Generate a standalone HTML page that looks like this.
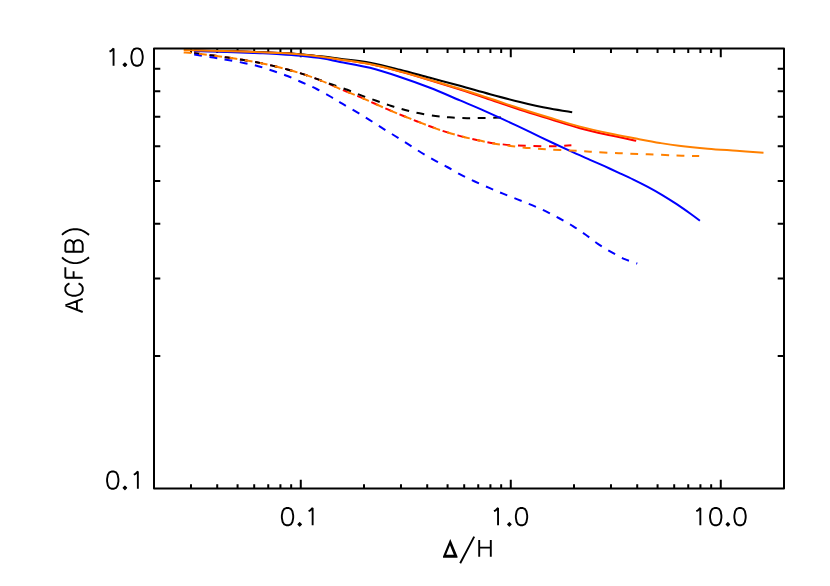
<!DOCTYPE html>
<html><head><meta charset="utf-8"><title>ACF(B)</title>
<style>html,body{margin:0;padding:0;background:#fff;font-family:"Liberation Sans",sans-serif;}svg{display:block}</style>
</head><body>
<svg width="830" height="586" viewBox="0 0 830 586">
<rect width="830" height="586" fill="#fff"/>
<path d="M190.98 488.55 V484.15 M190.98 48.55 V52.95 M217.22 488.55 V484.15 M217.22 48.55 V52.95 M237.57 488.55 V484.15 M237.57 48.55 V52.95 M254.20 488.55 V484.15 M254.20 48.55 V52.95 M268.25 488.55 V484.15 M268.25 48.55 V52.95 M280.43 488.55 V484.15 M280.43 48.55 V52.95 M291.17 488.55 V484.15 M291.17 48.55 V52.95 M300.78 488.55 V479.75 M300.78 48.55 V57.35 M364.00 488.55 V484.15 M364.00 48.55 V52.95 M400.98 488.55 V484.15 M400.98 48.55 V52.95 M427.22 488.55 V484.15 M427.22 48.55 V52.95 M447.57 488.55 V484.15 M447.57 48.55 V52.95 M464.20 488.55 V484.15 M464.20 48.55 V52.95 M478.25 488.55 V484.15 M478.25 48.55 V52.95 M490.43 488.55 V484.15 M490.43 48.55 V52.95 M501.17 488.55 V484.15 M501.17 48.55 V52.95 M510.78 488.55 V479.75 M510.78 48.55 V57.35 M574.00 488.55 V484.15 M574.00 48.55 V52.95 M610.98 488.55 V484.15 M610.98 48.55 V52.95 M637.22 488.55 V484.15 M637.22 48.55 V52.95 M657.57 488.55 V484.15 M657.57 48.55 V52.95 M674.20 488.55 V484.15 M674.20 48.55 V52.95 M688.25 488.55 V484.15 M688.25 48.55 V52.95 M700.43 488.55 V484.15 M700.43 48.55 V52.95 M711.17 488.55 V484.15 M711.17 48.55 V52.95 M720.78 488.55 V479.75 M720.78 48.55 V57.35 M154.00 356.10 H160.30 M784.00 356.10 H777.70 M154.00 278.62 H160.30 M784.00 278.62 H777.70 M154.00 223.64 H160.30 M784.00 223.64 H777.70 M154.00 181.00 H160.30 M784.00 181.00 H777.70 M154.00 146.16 H160.30 M784.00 146.16 H777.70 M154.00 116.71 H160.30 M784.00 116.71 H777.70 M154.00 91.19 H160.30 M784.00 91.19 H777.70 M154.00 68.68 H160.30 M784.00 68.68 H777.70" stroke="#000" stroke-width="2.00" fill="none"/>
<path d="M194.20 50.60 C201.83 50.77 225.70 51.20 240.00 51.60 C254.30 52.00 269.90 52.53 280.00 53.00 C290.10 53.47 293.37 53.75 300.60 54.40 C307.83 55.05 316.83 56.07 323.40 56.90 C329.97 57.73 332.23 58.20 340.00 59.40 C347.77 60.60 360.00 62.08 370.00 64.10 C380.00 66.12 390.00 68.82 400.00 71.50 C410.00 74.18 420.00 77.18 430.00 80.20 C440.00 83.22 450.00 86.37 460.00 89.60 C470.00 92.83 480.00 96.23 490.00 99.60 C500.00 102.97 510.00 106.55 520.00 109.80 C530.00 113.05 540.00 116.03 550.00 119.10 C560.00 122.17 570.00 125.50 580.00 128.20 C590.00 130.90 600.63 133.20 610.00 135.30 C619.37 137.40 631.83 139.88 636.20 140.80" stroke="#ff0000" stroke-width="2.00" fill="none"/>
<path d="M194.20 53.10 C194.98 53.23 195.70 53.43 198.90 53.85 C202.10 54.27 208.58 54.98 213.40 55.60 C218.22 56.23 222.98 56.90 227.80 57.60 C232.62 58.30 237.48 59.02 242.30 59.80 C247.12 60.58 251.88 61.37 256.70 62.30 C261.52 63.23 266.07 64.20 271.20 65.40 C276.33 66.60 282.32 68.08 287.50 69.50 C292.68 70.92 297.43 72.33 302.30 73.90 C307.17 75.47 311.88 77.07 316.70 78.90 C321.52 80.73 326.82 83.02 331.20 84.90 C335.58 86.78 338.38 88.25 343.00 90.20 C347.62 92.15 353.83 94.47 358.90 96.60 C363.97 98.73 368.58 100.87 373.40 103.00 C378.22 105.13 382.98 107.32 387.80 109.40 C392.62 111.48 397.48 113.53 402.30 115.50 C407.12 117.47 411.88 119.32 416.70 121.20 C421.52 123.08 426.75 125.15 431.20 126.80 C435.65 128.45 438.97 129.67 443.40 131.10 C447.83 132.53 452.98 134.08 457.80 135.40 C462.62 136.72 467.48 137.88 472.30 139.00 C477.12 140.12 481.88 141.23 486.70 142.10 C491.52 142.97 496.02 143.62 501.20 144.20 C506.38 144.78 510.22 145.26 517.80 145.60 C525.38 145.94 539.67 146.18 546.70 146.25 C553.73 146.32 555.88 146.16 560.00 146.00 C564.12 145.84 569.50 145.42 571.40 145.30" stroke="#ff0000" stroke-width="2.00" fill="none" stroke-dasharray="7.8 7.6" stroke-dashoffset="0.00"/>
<path d="M194.20 50.70 C201.83 50.85 225.70 51.23 240.00 51.60 C254.30 51.97 269.90 52.47 280.00 52.90 C290.10 53.33 293.37 53.58 300.60 54.20 C307.83 54.82 316.83 55.83 323.40 56.60 C329.97 57.37 332.23 57.78 340.00 58.80 C347.77 59.82 360.00 60.88 370.00 62.70 C380.00 64.52 390.00 67.18 400.00 69.70 C410.00 72.22 420.00 75.12 430.00 77.80 C440.00 80.48 450.00 83.07 460.00 85.80 C470.00 88.53 480.00 91.50 490.00 94.20 C500.00 96.90 510.00 99.60 520.00 102.00 C530.00 104.40 541.30 106.90 550.00 108.60 C558.70 110.30 568.50 111.60 572.20 112.20" stroke="#000000" stroke-width="2.00" fill="none"/>
<path d="M194.20 53.10 C194.98 53.23 195.70 53.43 198.90 53.85 C202.10 54.27 208.58 54.98 213.40 55.60 C218.22 56.23 222.98 56.90 227.80 57.60 C232.62 58.30 237.48 59.02 242.30 59.80 C247.12 60.58 251.88 61.37 256.70 62.30 C261.52 63.23 266.07 64.20 271.20 65.40 C276.33 66.60 282.32 68.08 287.50 69.50 C292.68 70.92 297.43 72.33 302.30 73.90 C307.17 75.47 311.88 77.17 316.70 78.90 C321.52 80.63 326.10 82.48 331.20 84.30 C336.30 86.12 342.20 87.92 347.30 89.80 C352.40 91.68 356.97 93.77 361.80 95.60 C366.63 97.43 371.48 99.12 376.30 100.80 C381.12 102.48 385.88 104.17 390.70 105.70 C395.52 107.23 400.38 108.73 405.20 110.00 C410.02 111.27 414.55 112.30 419.60 113.30 C424.65 114.30 430.68 115.33 435.50 116.00 C440.32 116.67 444.05 116.95 448.50 117.30 C452.95 117.65 456.95 117.98 462.20 118.10 C467.45 118.22 473.62 118.10 480.00 118.00 C486.38 117.90 496.33 117.60 500.50 117.50 C504.67 117.40 504.25 117.42 505.00 117.40" stroke="#000000" stroke-width="2.00" fill="none" stroke-dasharray="7.8 7.6" stroke-dashoffset="0.00"/>
<path d="M194.20 50.90 C197.67 51.02 207.37 51.35 215.00 51.60 C222.63 51.85 232.50 52.13 240.00 52.40 C247.50 52.67 253.33 52.90 260.00 53.20 C266.67 53.50 273.23 53.77 280.00 54.20 C286.77 54.63 293.37 55.07 300.60 55.80 C307.83 56.53 316.83 57.58 323.40 58.60 C329.97 59.62 332.23 60.37 340.00 61.90 C347.77 63.43 360.00 65.28 370.00 67.80 C380.00 70.32 390.00 73.67 400.00 77.00 C410.00 80.33 420.00 83.90 430.00 87.80 C440.00 91.70 451.38 96.77 460.00 100.40 C468.62 104.03 472.07 105.32 481.70 109.60 C491.33 113.88 508.08 121.55 517.80 126.10 C527.52 130.65 531.48 132.85 540.00 136.90 C548.52 140.95 560.57 146.58 568.90 150.40 C577.23 154.22 584.07 157.17 590.00 159.80 C595.93 162.43 599.68 164.03 604.50 166.20 C609.32 168.37 614.08 170.57 618.90 172.80 C623.72 175.03 628.58 177.25 633.40 179.60 C638.22 181.95 642.98 184.32 647.80 186.90 C652.62 189.48 657.48 192.22 662.30 195.10 C667.12 197.98 671.88 201.00 676.70 204.20 C681.52 207.40 687.33 211.53 691.20 214.30 C695.07 217.07 698.45 219.72 699.90 220.80" stroke="#0000ff" stroke-width="2.00" fill="none"/>
<path d="M194.20 54.50 C197.40 55.02 207.80 56.68 213.40 57.60 C219.00 58.52 222.75 59.12 227.80 60.00 C232.85 60.88 238.63 61.87 243.70 62.90 C248.77 63.93 253.38 64.88 258.20 66.20 C263.02 67.52 267.72 69.17 272.60 70.80 C277.48 72.43 282.55 74.05 287.50 76.00 C292.45 77.95 297.43 80.33 302.30 82.50 C307.17 84.67 311.88 86.58 316.70 89.00 C321.52 91.42 326.93 94.55 331.20 97.00 C335.47 99.45 338.17 101.25 342.30 103.70 C346.43 106.15 351.55 109.05 356.00 111.70 C360.45 114.35 364.67 116.90 369.00 119.60 C373.33 122.30 377.65 125.17 382.00 127.90 C386.35 130.63 390.75 133.28 395.10 136.00 C399.45 138.72 403.77 141.45 408.10 144.20 C412.43 146.95 416.75 149.85 421.10 152.50 C425.45 155.15 429.85 157.68 434.20 160.10 C438.55 162.52 442.72 164.53 447.20 167.00 C451.68 169.47 456.50 172.48 461.10 174.90 C465.70 177.32 470.10 179.33 474.80 181.50 C479.50 183.67 484.60 185.87 489.30 187.90 C494.00 189.93 498.30 191.78 503.00 193.70 C507.70 195.62 512.67 197.48 517.50 199.40 C522.33 201.32 527.25 203.20 532.00 205.20 C536.75 207.20 541.40 209.18 546.00 211.40 C550.60 213.62 555.12 216.05 559.60 218.50 C564.08 220.95 568.55 223.38 572.90 226.10 C577.25 228.82 581.53 231.85 585.70 234.80 C589.87 237.75 593.68 240.95 597.90 243.80 C602.12 246.65 606.53 249.35 611.00 251.90 C615.47 254.45 620.32 257.17 624.70 259.10 C629.08 261.03 635.20 262.77 637.30 263.50" stroke="#0000ff" stroke-width="2.00" fill="none" stroke-dasharray="7.8 7.6" stroke-dashoffset="0.00"/>
<path d="M183.70 50.10 C188.08 50.20 200.62 50.47 210.00 50.70 C219.38 50.93 231.67 51.25 240.00 51.50 C248.33 51.75 253.33 51.95 260.00 52.20 C266.67 52.45 273.23 52.63 280.00 53.00 C286.77 53.37 293.37 53.75 300.60 54.40 C307.83 55.05 316.83 56.07 323.40 56.90 C329.97 57.73 332.23 58.20 340.00 59.40 C347.77 60.60 360.00 62.10 370.00 64.10 C380.00 66.10 390.00 68.75 400.00 71.40 C410.00 74.05 420.00 77.10 430.00 80.00 C440.00 82.90 450.00 85.72 460.00 88.80 C470.00 91.88 480.00 95.22 490.00 98.50 C500.00 101.78 510.00 105.28 520.00 108.50 C530.00 111.72 540.00 114.78 550.00 117.80 C560.00 120.82 570.00 123.97 580.00 126.60 C590.00 129.23 600.67 131.60 610.00 133.60 C619.33 135.60 627.67 137.03 636.00 138.60 C644.33 140.17 652.85 141.80 660.00 143.00 C667.15 144.20 670.93 144.85 678.90 145.80 C686.87 146.75 698.17 147.87 707.80 148.70 C717.43 149.53 727.42 150.12 736.70 150.80 C745.98 151.48 759.03 152.47 763.50 152.80" stroke="#ff8000" stroke-width="2.00" fill="none"/>
<path d="M183.70 52.50 C185.00 52.60 188.97 52.88 191.50 53.10 C194.03 53.33 195.25 53.43 198.90 53.85 C202.55 54.27 208.58 54.98 213.40 55.60 C218.22 56.23 222.98 56.90 227.80 57.60 C232.62 58.30 237.48 59.02 242.30 59.80 C247.12 60.58 251.88 61.37 256.70 62.30 C261.52 63.23 266.07 64.20 271.20 65.40 C276.33 66.60 282.32 68.08 287.50 69.50 C292.68 70.92 297.43 72.33 302.30 73.90 C307.17 75.47 311.88 77.07 316.70 78.90 C321.52 80.73 326.82 83.02 331.20 84.90 C335.58 86.78 338.38 88.25 343.00 90.20 C347.62 92.15 353.83 94.47 358.90 96.60 C363.97 98.73 368.58 100.87 373.40 103.00 C378.22 105.13 382.98 107.32 387.80 109.40 C392.62 111.48 397.48 113.53 402.30 115.50 C407.12 117.47 411.88 119.32 416.70 121.20 C421.52 123.08 426.75 125.15 431.20 126.80 C435.65 128.45 438.97 129.67 443.40 131.10 C447.83 132.53 452.98 134.08 457.80 135.40 C462.62 136.72 467.48 137.88 472.30 139.00 C477.12 140.12 481.88 141.15 486.70 142.10 C491.52 143.05 496.37 143.95 501.20 144.70 C506.03 145.45 510.90 146.03 515.70 146.60 C520.50 147.17 524.83 147.65 530.00 148.10 C535.17 148.55 540.22 148.92 546.70 149.30 C553.18 149.68 561.68 150.00 568.90 150.40 C576.12 150.80 581.67 151.23 590.00 151.70 C598.33 152.17 609.27 152.77 618.90 153.20 C628.53 153.63 638.17 153.92 647.80 154.30 C657.43 154.68 668.13 155.20 676.70 155.50 C685.27 155.80 695.45 156.00 699.20 156.10" stroke="#ff8000" stroke-width="2.00" fill="none" stroke-dasharray="7.8 7.6" stroke-dashoffset="0.00"/>
<rect x="154.00" y="48.55" width="630.00" height="440.00" fill="none" stroke="#000" stroke-width="2.00" stroke-linejoin="round"/>
<path d="M109.51 51.70 L111.13 50.88 L113.56 48.40 L113.56 65.75 M136.24 48.40 L133.81 49.23 L132.19 51.70 L131.38 55.83 L131.38 58.31 L132.19 62.44 L133.81 64.92 L136.24 65.75 L137.86 65.75 L140.29 64.92 L141.91 62.44 L142.72 58.31 L142.72 55.83 L141.91 51.70 L140.29 49.23 L137.86 48.40 Z M111.94 471.45 L109.51 472.28 L107.89 474.76 L107.08 478.89 L107.08 481.37 L107.89 485.50 L109.51 487.97 L111.94 488.80 L113.56 488.80 L115.99 487.97 L117.61 485.50 L118.42 481.37 L118.42 478.89 L117.61 474.76 L115.99 472.28 L113.56 471.45 Z M133.81 474.76 L135.43 473.93 L137.86 471.45 L137.86 488.80 M286.72 507.95 L284.29 508.78 L282.67 511.26 L281.86 515.39 L281.86 517.87 L282.67 522.00 L284.29 524.47 L286.72 525.30 L288.34 525.30 L290.77 524.47 L292.39 522.00 L293.20 517.87 L293.20 515.39 L292.39 511.26 L290.77 508.78 L288.34 507.95 Z M308.59 511.26 L310.21 510.43 L312.64 507.95 L312.64 525.30 M493.99 511.26 L495.61 510.43 L498.04 507.95 L498.04 525.30 M520.72 507.95 L518.29 508.78 L516.67 511.26 L515.86 515.39 L515.86 517.87 L516.67 522.00 L518.29 524.47 L520.72 525.30 L522.34 525.30 L524.77 524.47 L526.39 522.00 L527.20 517.87 L527.20 515.39 L526.39 511.26 L524.77 508.78 L522.34 507.95 Z M696.29 511.26 L697.91 510.43 L700.34 507.95 L700.34 525.30 M714.92 507.95 L712.49 508.78 L710.87 511.26 L710.06 515.39 L710.06 517.87 L710.87 522.00 L712.49 524.47 L714.92 525.30 L716.54 525.30 L718.97 524.47 L720.59 522.00 L721.40 517.87 L721.40 515.39 L720.59 511.26 L718.97 508.78 L716.54 507.95 Z M739.22 507.95 L736.79 508.78 L735.17 511.26 L734.36 515.39 L734.36 517.87 L735.17 522.00 L736.79 524.47 L739.22 525.30 L740.84 525.30 L743.27 524.47 L744.89 522.00 L745.70 517.87 L745.70 515.39 L744.89 511.26 L743.27 508.78 L740.84 507.95 Z M65.35 305.47 L82.70 311.99 M65.35 305.47 L82.70 298.94 M76.92 309.54 L76.92 301.39 M69.48 283.46 L67.83 284.28 L66.18 285.91 L65.35 287.54 L65.35 290.80 L66.18 292.43 L67.83 294.06 L69.48 294.87 L71.96 295.69 L76.09 295.69 L78.57 294.87 L80.22 294.06 L81.87 292.43 L82.70 290.80 L82.70 287.54 L81.87 285.91 L80.22 284.28 L78.57 283.46 M65.35 277.75 L82.70 277.75 M65.35 277.75 L65.35 267.16 M73.61 277.75 L73.61 271.24 M62.05 257.38 L63.70 259.01 L66.18 260.64 L69.48 262.27 L73.61 263.09 L76.92 263.09 L81.05 262.27 L84.35 260.64 L86.83 259.01 L89.06 257.38 M65.35 251.68 L82.70 251.68 M65.35 251.68 L65.35 244.34 L66.18 241.90 L67.01 241.08 L68.66 240.27 L70.31 240.27 L71.96 241.08 L72.79 241.90 L73.61 244.34 M73.61 251.68 L73.61 244.34 L74.44 241.90 L75.27 241.08 L76.92 240.27 L79.40 240.27 L81.05 241.08 L81.87 241.90 L82.70 244.34 L82.70 251.68 M62.05 234.89 L63.70 233.26 L66.18 231.63 L69.48 230.00 L73.61 229.18 L76.92 229.18 L81.05 230.00 L84.35 231.63 L86.83 233.26 L89.06 234.89 M474.2 536.6 L460.2 563.2 M479.2 539.9 V556.8 M490.8 539.9 V556.8 M479.2 547.6 H490.8" stroke="#000" stroke-width="1.90" fill="none" stroke-linecap="butt" stroke-linejoin="bevel"/>
<path d="M123.15 64.75 L124.90 63.00 L126.65 64.75 L124.90 66.50 Z M123.15 487.81 L124.90 486.06 L126.65 487.81 L124.90 489.56 Z M297.93 524.31 L299.68 522.56 L301.43 524.31 L299.68 526.06 Z M507.63 524.31 L509.38 522.56 L511.13 524.31 L509.38 526.06 Z M726.13 524.31 L727.88 522.56 L729.63 524.31 L727.88 526.06 Z" fill="#000" stroke="#000" stroke-width="1.1" stroke-linejoin="round"/>
<path fill-rule="evenodd" fill="#000" d="M450.26 539.00 L457.50 556.60 L457.50 557.75 L443.00 557.75 L443.00 556.60 Z M449.96 545.34 L453.78 554.65 L446.14 554.65 Z"/>
</svg>
</body></html>
